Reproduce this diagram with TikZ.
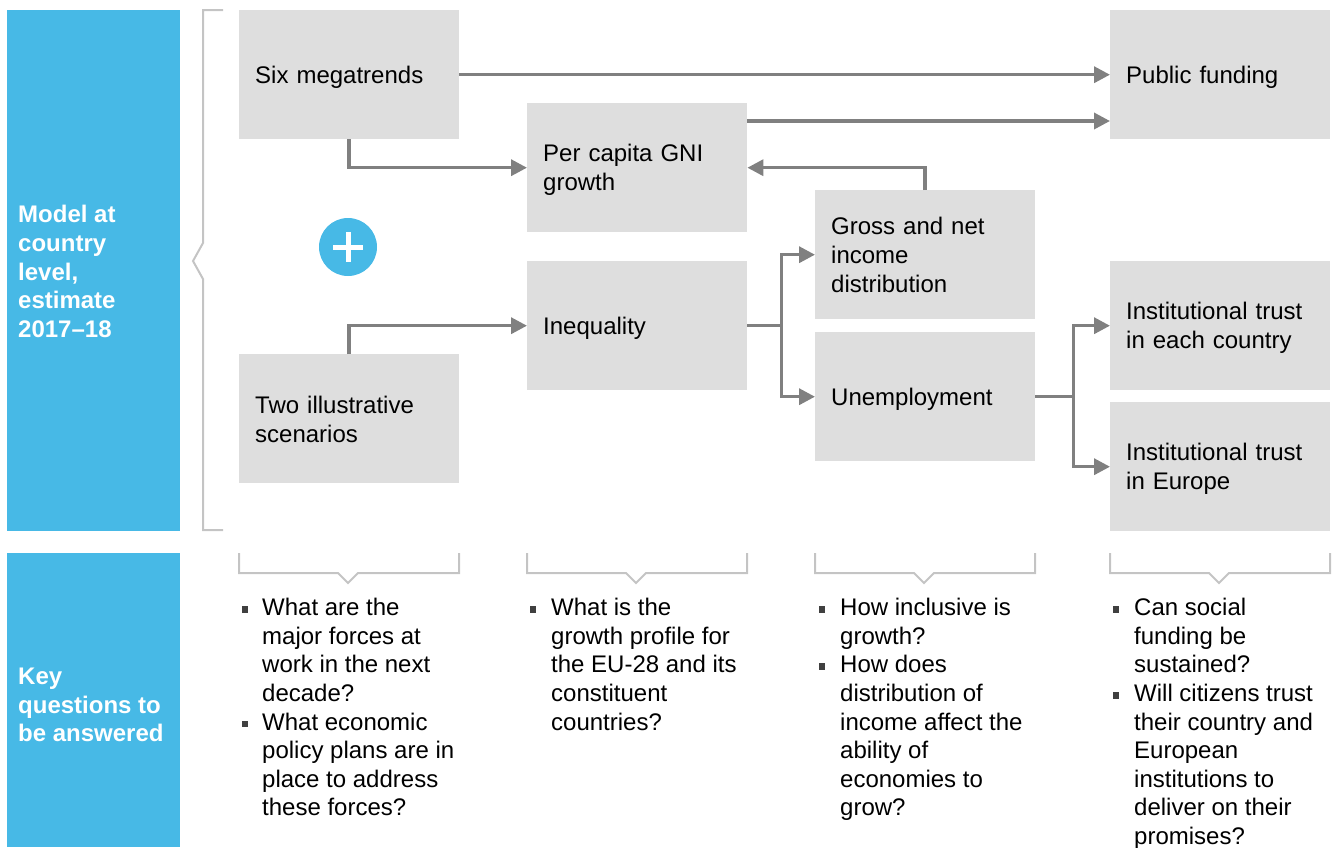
\documentclass[tikz,border=0pt]{standalone}
\usepackage{fontspec}
\setmainfont{Liberation Sans}
\usetikzlibrary{arrows.meta,calc}
\definecolor{mblue}{RGB}{71,185,230}
\definecolor{boxgray}{RGB}{222,222,222}
\definecolor{arrgray}{RGB}{128,128,128}
\definecolor{brgray}{RGB}{196,196,196}
\definecolor{bulgray}{RGB}{64,64,64}
\begin{document}
\begin{tikzpicture}[x=1pt,y=-1pt,
  every node/.style={font=\fontsize{24}{29}\selectfont},
  gbox/.style={fill=boxgray,draw=none,anchor=north west,text width=188pt,inner xsep=16pt,inner ysep=0pt,minimum height=129pt,align=left,
    execute at begin node={\rule{0pt}{22pt}},execute at end node={\rule[-4pt]{0pt}{0pt}}},
  conn/.style={draw=arrgray,line width=3.5pt,-{Triangle[length=16pt,width=16pt]}},
  plainconn/.style={draw=arrgray,line width=3.5pt},
  brk/.style={draw=brgray,line width=2pt},
  bl/.style={anchor=north west,inner sep=0pt,align=left,execute at begin node={\rule{0pt}{20pt}},font=\fontsize{24}{28.6}\selectfont},
  bsq/.style={fill=bulgray,draw=none,minimum size=6.5pt,inner sep=0pt}
]
\useasboundingbox (0,0) rectangle (1334,847);
% left panels
\fill[mblue] (7,10) rectangle (180,531);
\fill[mblue] (7,553) rectangle (180,847);
\node[bl,text=white,font=\bfseries\fontsize{24}{28.75}\selectfont] (modtxt) at (18,205) {Model at\\country\\level,\\estimate\\2017--18};
\node[bl,text=white,font=\bfseries\fontsize{24}{28.5}\selectfont] (keytxt) at (18,668) {Key\\questions to\\be answered};
% brace
\draw[brk] (223,10) -- (203,10) -- (203,243) -- (193,261) -- (203,279) -- (203,530) -- (223,530);
% boxes
\node[gbox] (six) at (239,10) {Six megatrends};
\node[gbox] (pub) at (1110,10) {Public funding};
\node[gbox] (gni) at (527,103) {Per capita GNI\\growth};
\node[gbox] (gross) at (815,190) {Gross and net\\income\\distribution};
\node[gbox] (ineq) at (527,261) {Inequality};
\node[gbox] (unemp) at (815,332) {Unemployment};
\node[gbox] (two) at (239,354) {Two illustrative\\scenarios};
\node[gbox] (inst1) at (1110,261) {Institutional trust\\in each country};
\node[gbox] (inst2) at (1110,402) {Institutional trust\\in Europe};
% plus
\node[circle,fill=mblue,minimum size=58pt,inner sep=0pt] (plus) at (348,247) {};
\draw[white,line width=5pt] ($(plus.center)+(-15,0)$) -- ($(plus.center)+(15,0)$);
\draw[white,line width=5pt] ($(plus.center)+(0,-15)$) -- ($(plus.center)+(0,15)$);
% connectors
\draw[conn] (six.east) -- (pub.west);
\coordinate (g1) at ($(gni.north east)+(0,18)$);
\draw[conn] (g1) -- (g1 -| pub.west);
\draw[conn] (six.south) |- (gni.west);
\draw[conn] (gross.north) |- (gni.east);
\draw[conn] (two.north) |- (ineq.west);
\coordinate (s1) at ($(ineq.east)+(34,0)$);
\draw[plainconn] (ineq.east) -- (s1);
\draw[conn] (s1) |- (gross.west);
\draw[conn] (s1) |- (unemp.west);
\coordinate (s2) at ($(unemp.east)+(38,0)$);
\draw[plainconn] (unemp.east) -- (s2);
\draw[conn] (s2) |- (inst1.west);
\draw[conn] (s2) |- (inst2.west);
% bottom brackets
\foreach \xa in {239,527,815,1110}{
  \draw[brk] (\xa,553) -- (\xa,573) -- (\xa+99,573) -- (\xa+109,583) -- (\xa+119,573) -- (\xa+220,573) -- (\xa+220,553);
}
% bullets column 1
\node[bsq] (b11) at (245,609.5) {};
\node[bl] (t11) at (262,598) {What are the\\major forces at\\work in the next\\decade?};
\node[bsq] (b12) at (245,723.9) {};
\node[bl] (t12) at (262,712.4) {What economic\\policy plans are in\\place to address\\these forces?};
% column 2
\node[bsq] (b21) at (533,609.5) {};
\node[bl] (t21) at (551,598) {What is the\\growth profile for\\the EU-28 and its\\constituent\\countries?};
% column 3
\node[bsq] (b31) at (822,609.5) {};
\node[bl] (t31) at (840,598) {How inclusive is\\growth?};
\node[bsq] (b32) at (822,666.7) {};
\node[bl] (t32) at (840,655.2) {How does\\distribution of\\income affect the\\ability of\\economies to\\grow?};
% column 4
\node[bsq] (b41) at (1116,609.5) {};
\node[bl] (t41) at (1134,598) {Can social\\funding be\\sustained?};
\node[bsq] (b42) at (1116,695.3) {};
\node[bl] (t42) at (1134,683.8) {Will citizens trust\\their country and\\European\\institutions to\\deliver on their\\promises?};
\end{tikzpicture}
\end{document}
